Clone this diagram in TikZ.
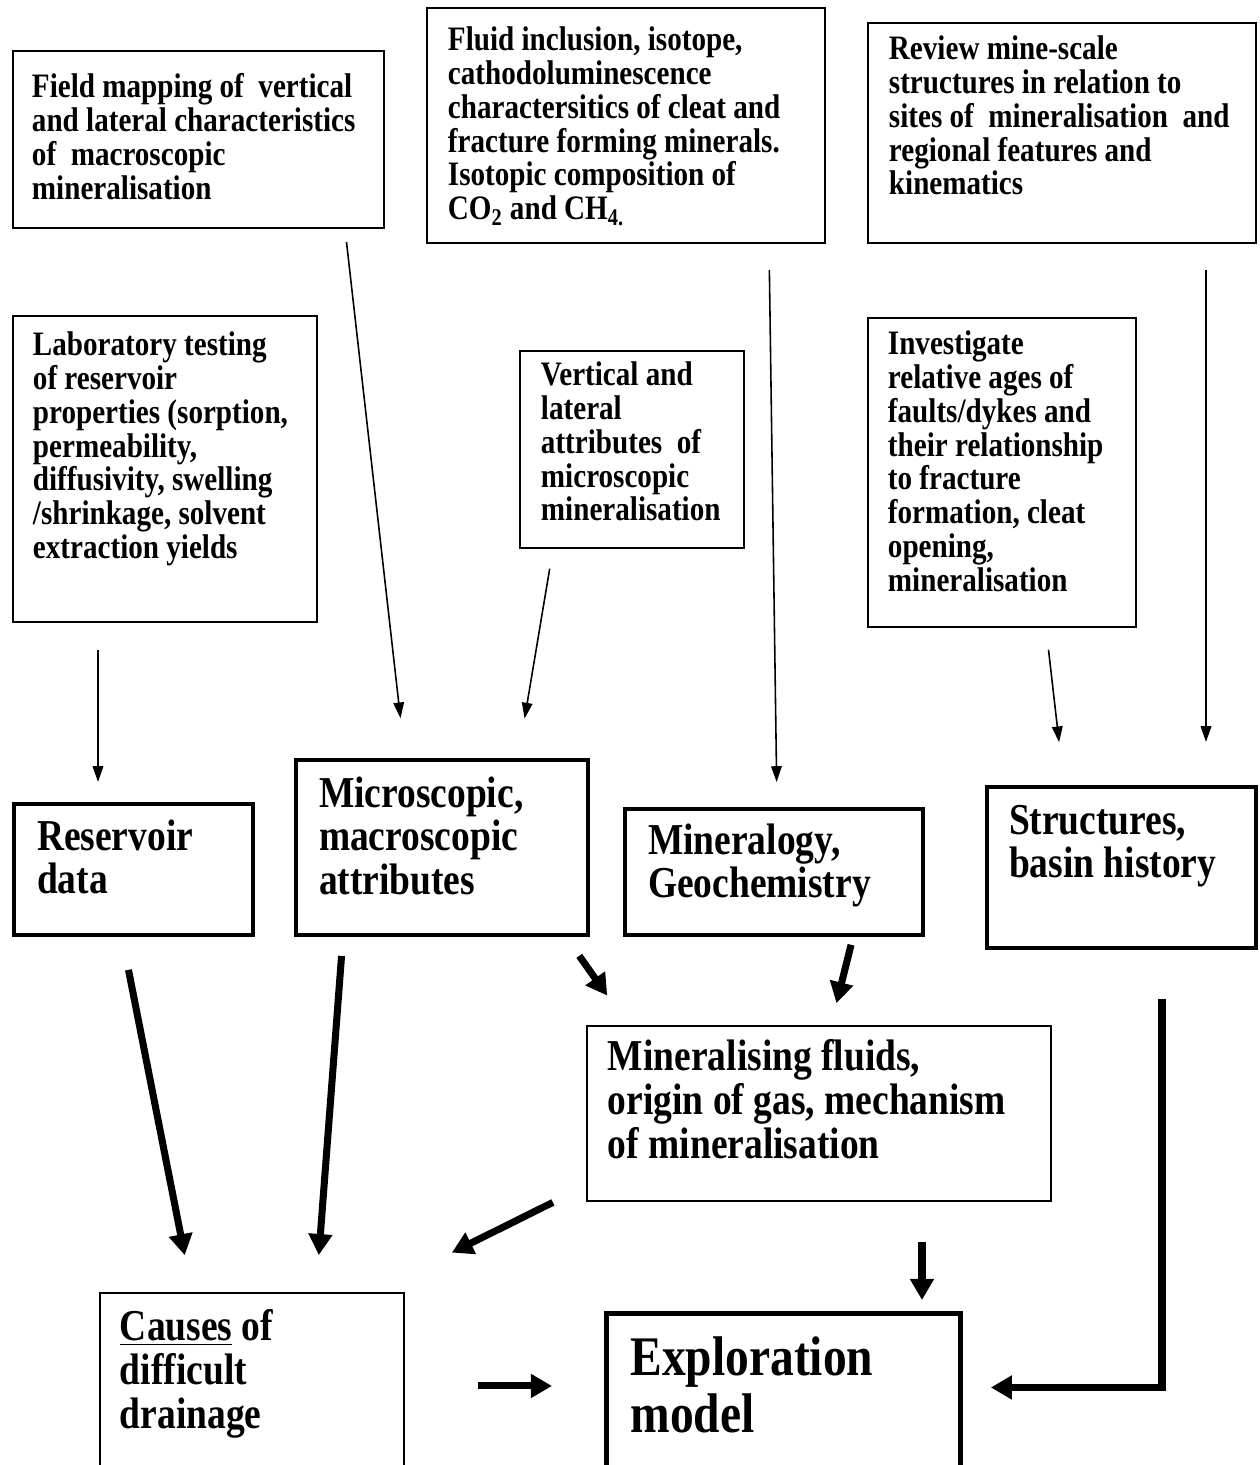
\documentclass[tikz,border=0pt]{standalone}
\usepackage{fontspec}
\setmainfont{Liberation Serif}[FakeStretch=0.85]
\usetikzlibrary{arrows.meta}

\begin{document}
\begin{tikzpicture}[x=0.02cm,y=-0.02cm,
	box/.style={draw,line width=1.1pt,anchor=north west,align=left,inner ysep=0pt,inner xsep=0.42cm,
		font=\fontsize{19.5}{19.2}\selectfont\bfseries,
		execute at begin node={\spaceskip=0pt\xspaceskip=0pt\relax}},
	midbox/.style={box,font=\fontsize{25.1}{25}\selectfont\bfseries},
	bigbox/.style={midbox,line width=2.3pt,inner xsep=0.46cm},
	thinarrow/.style={line width=0.9pt,-{Triangle[length=9pt,width=6pt]}},
	fatarrow/.style={line width=4pt,-{Triangle[length=12pt,width=13pt]}}]
	\useasboundingbox (0,0) rectangle (1259,1465);
	% top row
	\node[box,text width=6.66cm,text height=0.94cm,text depth=2.6cm,inner xsep=0.38cm] (fieldmap) at (12,50)
		{Field mapping of\ \ vertical\\ and lateral characteristics\\ of\ \ macroscopic\\ mineralisation};
	\node[box,text width=7.12cm,text height=0.86cm,text depth=3.84cm] (fluid) at (426,7)
		{Fluid inclusion, isotope,\\ cathodoluminescence\\ charactersitics of cleat and\\ fracture forming minerals.\\ Isotopic composition of\\ CO\textsubscript{2} and CH\textsubscript{4.}};
	\node[box,text width=6.92cm,text height=0.74cm,text depth=3.66cm] (review) at (867,22)
		{Review mine-scale\\ structures in relation to\\ sites of\ \ mineralisation\ \ and\\ regional features and\\ kinematics};
	% second row
	\node[box,text width=5.28cm,text height=0.8cm,text depth=5.32cm,inner xsep=0.4cm] (lab) at (12,315)
		{Laboratory testing\\ of reservoir\\ properties (sorption,\\ permeability,\\ diffusivity, swelling\\ /shrinkage, solvent\\ extraction yields};
	\node[box,text width=3.64cm,text height=0.7cm,text depth=3.24cm] (vert) at (519,350)
		{Vertical and\\ lateral\\ attributes\ \ of\\ microscopic\\ mineralisation};
	\node[box,text width=4.56cm,text height=0.74cm,text depth=5.44cm,inner xsep=0.4cm] (investigate) at (867,317)
		{Investigate\\ relative ages of\\ faults/dykes and\\ their relationship\\ to fracture\\ formation, cleat\\ opening,\\ mineralisation};
	% data boxes
	\node[bigbox,text width=3.86cm,text height=0.92cm,text depth=1.7cm] (reservoir) at (12,802)
		{Reservoir\\ data};
	\node[bigbox,text width=4.92cm,text height=0.94cm,text depth=2.56cm] (micro) at (294,758)
		{Microscopic,\\ macroscopic\\ attributes};
	\node[bigbox,text width=5.04cm,text height=0.9cm,text depth=1.62cm] (mineralogy) at (623,807)
		{Mineralogy,\\ Geochemistry};
	\node[bigbox,text width=4.5cm,text height=0.94cm,text depth=2.28cm,inner xsep=0.44cm] (structures) at (985,785)
		{Structures,\\ basin history};
	\node[midbox,text width=8.44cm,text height=0.9cm,text depth=2.6cm] (mineralising) at (586,1025)
		{Mineralising fluids,\\ origin of gas, mechanism\\ of mineralisation};
	% results
	\node[midbox,text width=5.28cm,text height=0.96cm,text depth=3cm,inner xsep=0.4cm] (causes) at (99,1292)
		{\underline{Causes} of\\ difficult\\ drainage};
	\node[bigbox,line width=2.8pt,text width=6.12cm,text height=1.24cm,text depth=2.34cm,inner xsep=0.48cm,
		font=\fontsize{31.8}{32.4}\selectfont\bfseries] (explore) at (604,1311)
		{Exploration\\ model};
	% thin arrows
	\draw[thinarrow,shorten <=0.26cm,shorten >=0.8cm] (345,0 |- fieldmap.south) -- (405,0 |- micro.north);
	\draw[thinarrow,shorten <=0.4cm,shorten >=0.8cm] (553,0 |- vert.south) -- (518,0 |- micro.north);
	\draw[thinarrow,shorten <=0.52cm,shorten >=0.5cm] (769,0 |- fluid.south) -- (777,0 |- mineralogy.north);
	\draw[thinarrow,shorten <=0.52cm,shorten >=0.86cm] (1206,0 |- review.south) -- (1206,0 |- structures.north);
	\draw[thinarrow,shorten <=0.54cm,shorten >=0.4cm] (98,0 |- lab.south) -- (98,0 |- reservoir.north);
	\draw[thinarrow,shorten <=0.44cm,shorten >=0.86cm] (1046,0 |- investigate.south) -- (1064,0 |- structures.north);
	% thick arrows
	\draw[fatarrow,shorten <=0.67cm,shorten >=0.75cm] (122,0 |- reservoir.south) -- (192,0 |- causes.north);
	\draw[fatarrow,shorten <=0.38cm,shorten >=0.74cm] (343,0 |- micro.south) -- (316,0 |- causes.north);
	\draw[fatarrow,shorten <=0.46cm,shorten >=0.72cm] (566,0 |- micro.south) -- (628,0 |- mineralising.north);
	\draw[fatarrow,shorten <=0.16cm,shorten >=0.45cm] (853,0 |- mineralogy.south) -- (831,0 |- mineralising.north);
	\draw[fatarrow,shorten <=0.74cm,shorten >=1.05cm] ([yshift=0.32cm]mineralising.south west) -- ([yshift=0.32cm]causes.north east);
	\draw[fatarrow,shorten <=0.8cm,shorten >=0.22cm] (922,0 |- mineralising.south) -- (922,0 |- explore.north);
	\draw[fatarrow,shorten <=1.46cm,shorten >=1.04cm] ([yshift=0.12cm]causes.east) -- ([yshift=0.12cm]causes.east -| explore.west);
	\draw[fatarrow,shorten <=0.98cm,shorten >=0.56cm] (1162,0 |- structures.south) |- ([yshift=0.31cm]explore.east);
\end{tikzpicture}
\end{document}
